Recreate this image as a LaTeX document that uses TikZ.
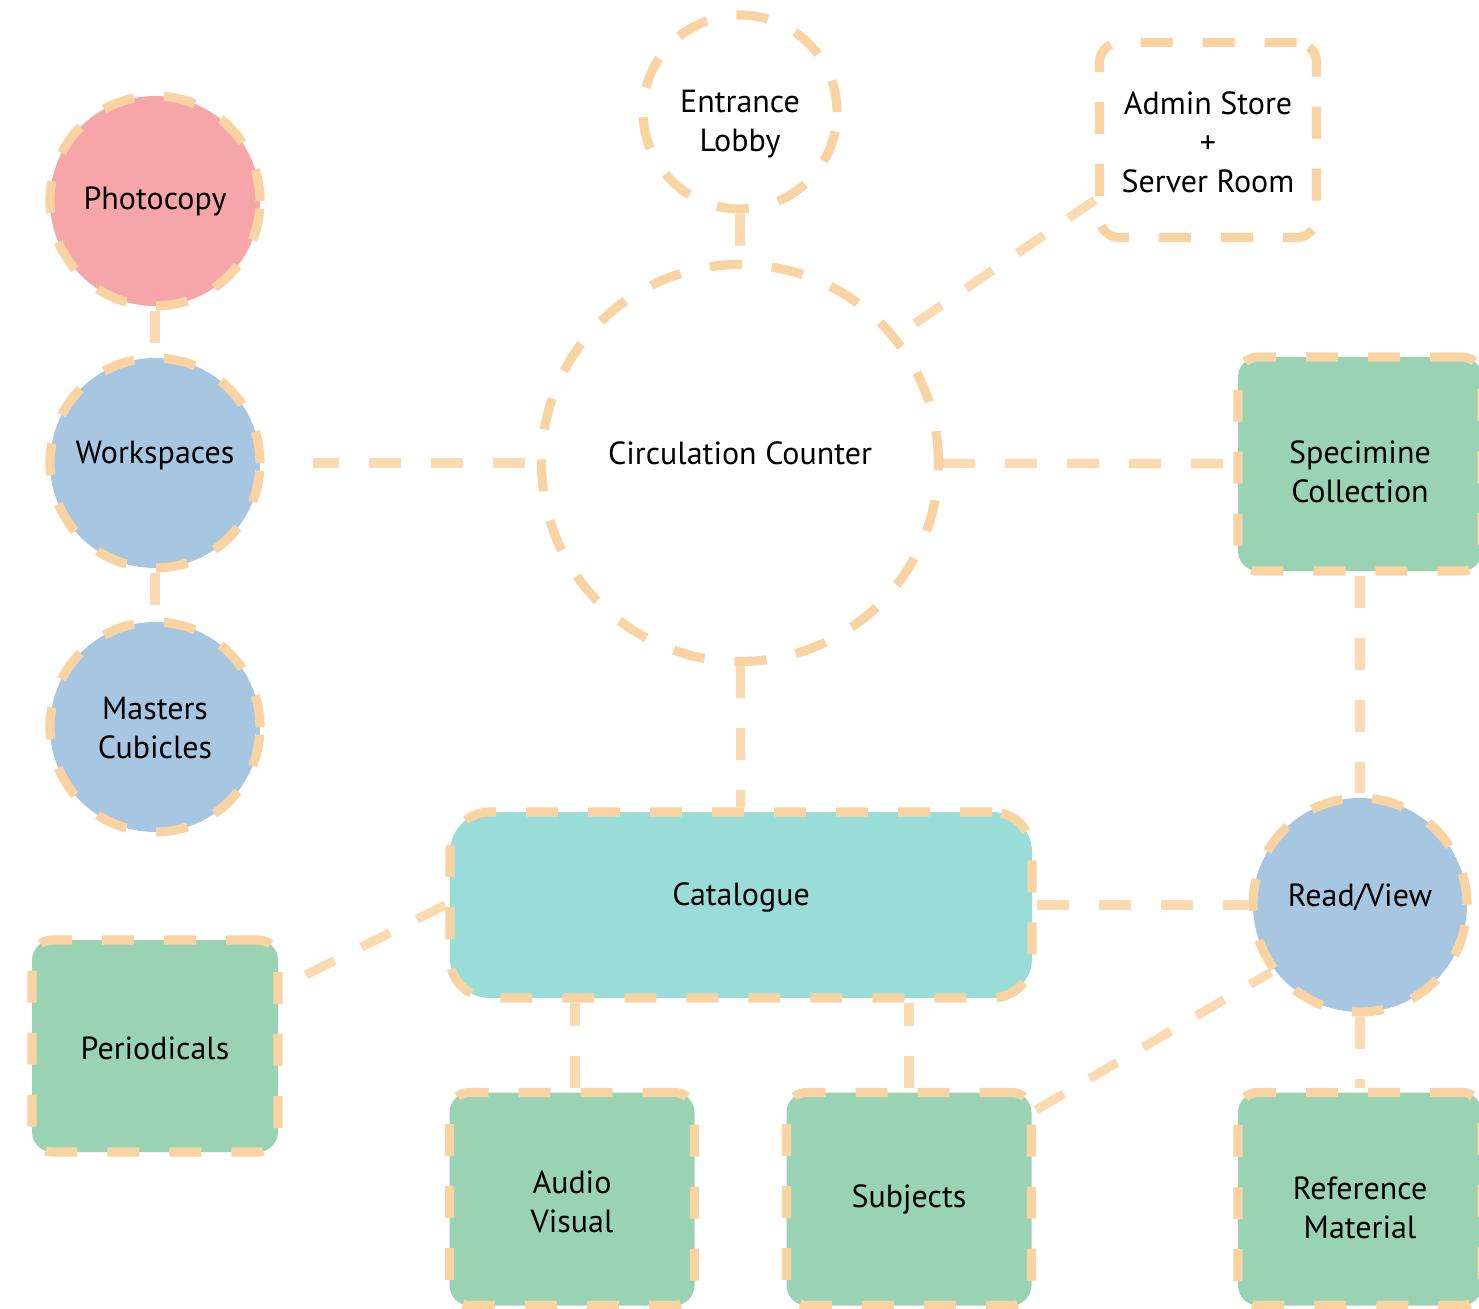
\documentclass[tikz,border=0pt]{standalone}
\usepackage{fontspec}
\setmainfont{PT Sans}
\usetikzlibrary{positioning, calc}
\definecolor{dashorange}{RGB}{250, 211, 163}
\definecolor{pinkfill}{RGB}{246, 166, 168}
\definecolor{bluefill}{RGB}{166, 198, 226}
\definecolor{greenfill}{RGB}{154, 211, 179}
\definecolor{tealfill}{RGB}{154, 220, 216}

\begin{document}
\begin{tikzpicture}[
    x=0.5pt, y=-0.5pt,
    edge/.style={draw=dashorange, line width=4.6pt,
                 dash pattern=on 16pt off 15pt},
    txt/.style={align=center, inner sep=0pt,
                font=\fontsize{16}{19.5}\selectfont},
    room/.style={circle, edge, inner sep=0pt},
    box/.style={rectangle, edge, rounded corners=10pt, inner sep=0pt},
    link/.style={edge, draw opacity=0.85},
]
    \useasboundingbox (0,0) rectangle (1479,1308);

    % top row
    \node[room, minimum size=97pt,
          label={[txt, yshift=-6pt]center:{Entrance\\Lobby}}] (lobby) at (740,112) {};
    \node[box, minimum width=108.5pt, minimum height=97.5pt,
          label={[txt, yshift=-1pt]center:{Admin Store\\+\\Server Room}}] (admin) at (1208,140) {};

    % left column
    \node[room, fill=pinkfill, minimum size=105pt,
          label={[txt]center:Photocopy}] (photo) at (155,201) {};
    \node[room, fill=bluefill, minimum size=105pt,
          label={[txt, yshift=4pt]center:Workspaces}] (work) at (155,463) {};
    \node[room, fill=bluefill, minimum size=105pt,
          label={[txt, yshift=-0.5pt]center:{Masters\\Cubicles}}] (masters) at (155,727) {};
    \node[box, fill=greenfill, minimum width=123pt, minimum height=106pt,
          label={[txt, yshift=-1pt]center:Periodicals}] (period) at (155,1046) {};

    % middle
    \node[room, minimum size=198.5pt,
          label={[txt, yshift=5pt]center:Circulation Counter}] (circ) at (740,463) {};
    \node[box, fill=tealfill, rounded corners=20pt, minimum width=291pt, minimum height=93pt,
          label={[txt, yshift=4pt]center:Catalogue}] (cat) at (741,905) {};
    \node[box, fill=greenfill, minimum width=122.5pt, minimum height=106.5pt,
          label={[txt, yshift=-1.5pt]center:{Audio\\Visual}}] (audio) at (572,1199) {};
    \node[box, fill=greenfill, minimum width=122.5pt, minimum height=106.5pt,
          label={[txt]center:Subjects}] (subj) at (909,1199) {};

    % right column
    \node[box, fill=greenfill, minimum width=122pt, minimum height=107pt,
          label={[txt, yshift=-4pt]center:{Specimine\\Collection}}] (spec) at (1360,464) {};
    \node[room, fill=bluefill, minimum size=107pt,
          label={[txt, yshift=4pt]center:Read/View}] (read) at (1360,905) {};
    \node[box, fill=greenfill, minimum width=122pt, minimum height=106.5pt,
          label={[txt, yshift=-4.5pt]center:{Reference\\Material}}] (ref) at (1360,1199) {};

    % connectors
    \draw[link] (lobby) -- (circ);
    \draw[link] (admin.208) -- (circ.39);
    \draw[link] (photo) -- (work);
    \draw[link] (work) -- (masters);
    \draw[link, dash phase=25pt, shorten >=24pt] (circ) -- (work);
    \draw[link] (circ) -- (spec);
    \draw[link] (circ) -- (cat);
    \draw[link] (spec) -- (read);
    \draw[link] (cat) -- (read);
    \draw[link] (cat.west) -- (period.25);
    \draw[link] (audio.north -| 575,0) -- (cat.south -| 575,0);
    \draw[link] (subj) -- (cat.south -| subj);
    \draw[link] (subj.35) -- (read.217);
    \draw[link] (read) -- (ref);
\end{tikzpicture}
\end{document}
